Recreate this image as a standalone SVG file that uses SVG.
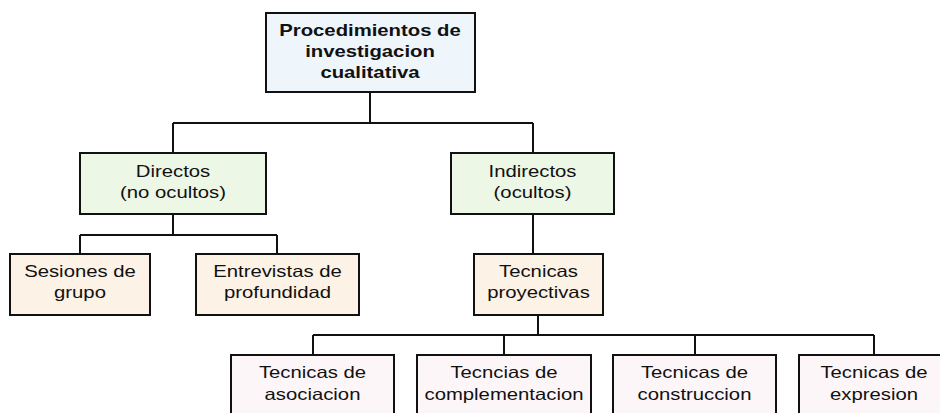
<svg xmlns="http://www.w3.org/2000/svg" width="940" height="413" viewBox="0 0 940 413">
<style>
.box{stroke:#111;stroke-width:2}
.blue{fill:#EEF5FB}
.green{fill:#EDF7E6}
.peach{fill:#FDF2E6}
.pink{fill:#FDF6F8}
.t{font-family:"Liberation Sans",Arial,sans-serif;font-size:16.5px;fill:#111;text-anchor:middle}
.b{font-weight:bold}
.conn{fill:none;stroke:#111;stroke-width:2}
</style>
<rect width="940" height="413" fill="#fff"/>
<g id="connectors">
<path class="conn" d="M370 92V123M173 123H533M173 123V153M533 123V153"/>
<path class="conn" d="M173 214V235M80 235H277M80 235V254M277 235V254"/>
<path class="conn" d="M533 214V254"/>
<path class="conn" d="M538 315V335M313 335H874M313 335V355M504 335V355M695 335V355M874 335V355"/>
</g>
<g id="n-root">
<rect class="box blue" x="266" y="13" width="209" height="79"/>
<g transform="translate(370,0) scale(1.23,1)"><text class="t b" x="0" y="36">Procedimientos de</text><text class="t b" x="0" y="57">investigacion</text><text class="t b" x="0" y="78">cualitativa</text></g>
</g>
<g id="n-directos">
<rect class="box green" x="80" y="153" width="186" height="61"/>
<g transform="translate(173,0) scale(1.23,1)"><text class="t" x="0" y="177">Directos</text><text class="t" x="0" y="198">(no ocultos)</text></g>
</g>
<g id="n-indirectos">
<rect class="box green" x="451" y="153" width="163" height="61"/>
<g transform="translate(532.5,0) scale(1.23,1)"><text class="t" x="0" y="177">Indirectos</text><text class="t" x="0" y="198">(ocultos)</text></g>
</g>
<g id="n-sesiones">
<rect class="box peach" x="10" y="254" width="140" height="61"/>
<g transform="translate(80,0) scale(1.23,1)"><text class="t" x="0" y="277">Sesiones de</text><text class="t" x="0" y="298">grupo</text></g>
</g>
<g id="n-entrevistas">
<rect class="box peach" x="196" y="254" width="163" height="61"/>
<g transform="translate(277.5,0) scale(1.23,1)"><text class="t" x="0" y="277">Entrevistas de</text><text class="t" x="0" y="298">profundidad</text></g>
</g>
<g id="n-proyectivas">
<rect class="box peach" x="474" y="254" width="129" height="61"/>
<g transform="translate(538.5,0) scale(1.23,1)"><text class="t" x="0" y="277">Tecnicas</text><text class="t" x="0" y="298">proyectivas</text></g>
</g>
<g id="n-asociacion">
<rect class="box pink" x="231" y="355" width="163" height="64"/>
<g transform="translate(312.5,0) scale(1.23,1)"><text class="t" x="0" y="378">Tecnicas de</text><text class="t" x="0" y="400">asociacion</text></g>
</g>
<g id="n-complementacion">
<rect class="box pink" x="417" y="355" width="174" height="64"/>
<g transform="translate(504,0) scale(1.23,1)"><text class="t" x="0" y="378">Tecncias de</text><text class="t" x="0" y="400">complementacion</text></g>
</g>
<g id="n-construccion">
<rect class="box pink" x="613" y="355" width="163" height="64"/>
<g transform="translate(694.5,0) scale(1.23,1)"><text class="t" x="0" y="378">Tecnicas de</text><text class="t" x="0" y="400">construccion</text></g>
</g>
<g id="n-expresion">
<rect class="box pink" x="799" y="355" width="150" height="64"/>
<g transform="translate(874,0) scale(1.23,1)"><text class="t" x="0" y="378">Tecnicas de</text><text class="t" x="0" y="400">expresion</text></g>
</g>
</svg>
